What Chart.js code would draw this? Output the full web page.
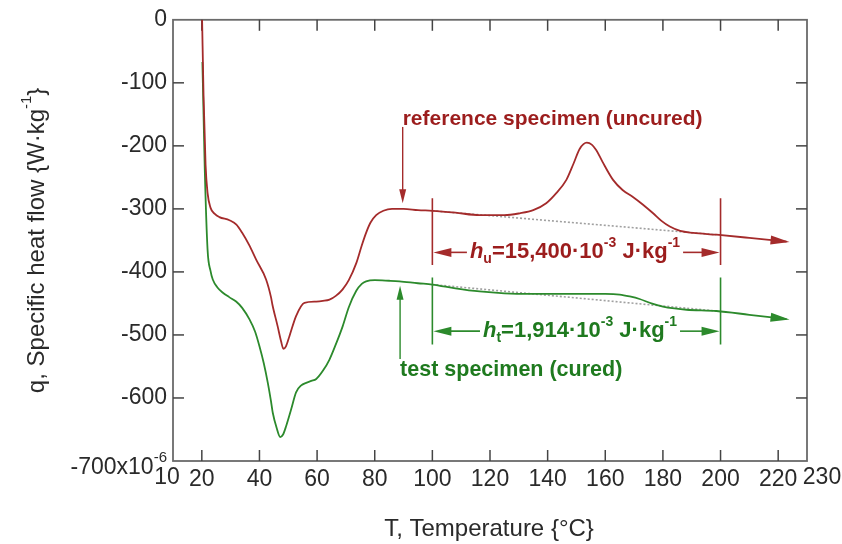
<!DOCTYPE html>
<html>
<head>
<meta charset="utf-8">
<script src="https://cdn.jsdelivr.net/npm/chart.js@4.4.1/dist/chart.umd.min.js"></script>
<style>
  html, body { margin: 0; padding: 0; background: #fff; }
</style>
</head>
<body>
<canvas id="chart" width="842" height="544"></canvas>
<script>
// reference specimen (uncured), T in °C, q in 1e-6 W/kg
const refT = [20.1, 20.6, 21.3, 22.0, 23.0, 24.5, 26.1, 29.6, 32, 34, 36.5, 38.9, 42.3, 44.0, 44.5, 46.3, 47.5, 48.3, 49.2, 50.4,
  52.7, 55.6, 59.7, 62, 64.3, 66.5, 68.8, 71, 73.6, 75.5, 77, 78.5, 80.5, 83, 86, 90, 95, 100, 108, 116.4,
  125, 130.3, 135, 139.5, 143, 146.5, 149, 151.1, 153.6, 155.3, 156.9, 159, 162.7, 166, 169.6, 173, 176.6, 179.5, 182.4, 186,
  190.5, 198.6, 210, 222.9];
const refQ = [0, -120, -230, -275, -298, -308, -313, -318, -325, -338, -358, -381, -412, -440, -452, -486, -510, -522, -518, -502,
  -470, -449, -447, -446, -444, -438, -428, -413, -386, -358, -338, -322, -310, -303, -300, -300, -302, -303, -306, -310,
  -310, -307, -302, -291, -275, -254, -228, -205, -195, -198, -207, -225, -254, -270, -281, -293, -307, -319, -328, -335,
  -338, -341, -346, -352];

// test specimen (cured)
const testT = [20.2, 20.6, 21.0, 22.0, 23.0, 23.8, 25.5, 27.3, 29.5, 31.9, 34, 36.5, 38.5, 40, 41.5, 42.9, 44, 44.6, 46, 47.2,
  48.2, 49.3, 51, 52.7, 54.5, 56.2, 58, 59.7, 62, 64.3, 66.5, 68.9, 71, 73.6, 75.5, 77, 80, 85, 88.6, 95,
  100, 108, 116.4, 125, 133.8, 151.1, 160, 165, 168.5, 171.9, 176, 180, 184, 188.2, 198.6, 210, 222.9];
const testQ = [-67, -150, -233, -365, -398, -412, -425, -433, -440, -447, -457, -475, -495, -518, -545, -576, -605, -623, -648, -662,
  -658, -644, -618, -591, -580, -576, -573, -570, -557, -539, -515, -486, -456, -430, -419, -415, -413, -414, -415, -418,
  -420, -426, -431, -434, -435, -435, -435, -436, -439, -443, -450, -455, -458, -460, -462, -468, -475];

// dotted baselines under the peaks
const refBaseT = [100, 198.6];
const refBaseQ = [-303, -341];
const testBaseT = [100, 198.6];
const testBaseQ = [-420, -462];

// integration limits and annotation levels
const limitsT = [100, 200];
const refLimitQ = [-283, -389];
const testLimitQ = [-409, -515];
const refSpanQ = -369;
const testSpanQ = -494;

const xTicks = [10, 20, 40, 60, 80, 100, 120, 140, 160, 180, 200, 220, 230];
const yTicks = [0, -100, -200, -300, -400, -500, -600, -700];

const RED = '#a42b2b';
const RED_TXT = '#9c1d1d';
const GREEN = '#2c8a2c';
const GREEN_TXT = '#1f7a1f';
const INK = '#2a2a2a';
const FONT = '"Liberation Sans", Arial, sans-serif';

function pts(xs, ys) {
  return xs.map((x, i) => ({ x: x, y: ys[i] }));
}

// draws text made of plain / sup / sub pieces, returns its width
function rich(ctx, parts, x, y, align, color, bold, size, small) {
  const w = bold ? 'bold ' : '';
  const f = p => (p.i ? 'italic ' : '') + w + (p.s ? small : size) + 'px ' + FONT;
  let total = 0;
  parts.forEach(p => {
    ctx.font = f(p);
    p.w = ctx.measureText(p.t).width;
    total += p.w;
  });
  let cx = align === 'center' ? x - total / 2 : align === 'right' ? x - total : x;
  ctx.fillStyle = color;
  ctx.textAlign = 'left';
  ctx.textBaseline = 'middle';
  parts.forEach(p => {
    ctx.font = f(p);
    ctx.fillText(p.t, cx, y + (p.s === 'sup' ? -size * 0.42 : p.s === 'sub' ? size * 0.32 : 0));
    cx += p.w;
  });
  return total;
}

function head(ctx, tx, ty, ang, len, hw, color) {
  ctx.save();
  ctx.translate(tx, ty);
  ctx.rotate(ang);
  ctx.fillStyle = color;
  ctx.beginPath();
  ctx.moveTo(0, 0);
  ctx.lineTo(-len, -hw);
  ctx.lineTo(-len, hw);
  ctx.closePath();
  ctx.fill();
  ctx.restore();
}

function line(ctx, x1, y1, x2, y2, color, w) {
  ctx.strokeStyle = color;
  ctx.lineWidth = w;
  ctx.beginPath();
  ctx.moveTo(x1, y1);
  ctx.lineTo(x2, y2);
  ctx.stroke();
}

const decor = {
  id: 'decor',
  beforeDatasetsDraw(chart) {
    const { ctx, chartArea: a } = chart;
    const xs = chart.scales.x, ys = chart.scales.y;
    ctx.save();
    ctx.strokeStyle = '#6a6a6a';
    ctx.lineWidth = 1.8;
    ctx.strokeRect(a.left, a.top, a.right - a.left, a.bottom - a.top);
    xTicks.slice(1, -1).forEach(v => {
      const px = xs.getPixelForValue(v);
      line(ctx, px, a.bottom, px, a.bottom - 11, '#444', 1.5);
      line(ctx, px, a.top, px, a.top + 11, '#444', 1.5);
    });
    yTicks.slice(1, -1).forEach(v => {
      const py = ys.getPixelForValue(v);
      line(ctx, a.left, py, a.left + 11, py, '#444', 1.5);
      line(ctx, a.right, py, a.right - 11, py, '#444', 1.5);
    });
    // end labels placed like the original
    ctx.fillStyle = INK;
    ctx.font = '23px ' + FONT;
    ctx.textBaseline = 'middle';
    ctx.textAlign = 'center';
    ctx.fillText('10', xs.getPixelForValue(10) - 6, a.bottom + 17);
    ctx.fillText('230', xs.getPixelForValue(230) + 15, a.bottom + 17);
    rich(ctx, [{ t: '-700x10' }, { t: '-6', s: 'sup' }], a.left - 6, a.bottom + 7, 'right', INK, false, 23, 15);
    // axis titles
    rich(ctx, [{ t: 'T, Temperature {°C}' }], 489, 529, 'center', INK, false, 24, 15);
    ctx.save();
    ctx.translate(37, (a.top + a.bottom) / 2);
    ctx.rotate(-Math.PI / 2);
    rich(ctx, [{ t: 'q, Specific heat flow {W·kg' }, { t: '-1', s: 'sup' }, { t: '}' }], 0, 0, 'center', INK, false, 24, 15);
    ctx.restore();
    ctx.restore();
  },
  afterDatasetsDraw(chart) {
    const { ctx } = chart;
    const xs = chart.scales.x, ys = chart.scales.y;
    const X = v => xs.getPixelForValue(v), Y = v => ys.getPixelForValue(v);
    ctx.save();
    // arrow heads at ends of curves
    [[refT, refQ, RED], [testT, testQ, GREEN]].forEach(([t, q, c]) => {
      const n = t.length;
      const ang = Math.atan2(Y(q[n - 1]) - Y(q[n - 2]), X(t[n - 1]) - X(t[n - 2]));
      head(ctx, X(t[n - 1]) + 3, Y(q[n - 1]) + 3 * Math.tan(ang), ang, 19, 4.5, c);
    });
    // span arrows with labels
    const spans = [
      [refSpanQ, RED, RED_TXT, [{ t: 'h', i: true }, { t: 'u', s: 'sub' }, { t: '=15,400·10' }, { t: '-3', s: 'sup' }, { t: ' J·kg' }, { t: '-1', s: 'sup' }], 575],
      [testSpanQ, GREEN, GREEN_TXT, [{ t: 'h', i: true }, { t: 't', s: 'sub' }, { t: '=1,914·10' }, { t: '-3', s: 'sup' }, { t: ' J·kg' }, { t: '-1', s: 'sup' }], 580]
    ];
    spans.forEach(([q, c, tc, parts, cx]) => {
      const py = Y(q);
      const w = rich(ctx, parts, cx, py, 'center', tc, true, 22, 14);
      const l = X(limitsT[0]), r = X(limitsT[1]);
      line(ctx, l + 10, py, cx - w / 2 - 3, py, c, 1.6);
      line(ctx, cx + w / 2 + 3, py, r - 10, py, c, 1.6);
      head(ctx, l + 1, py, Math.PI, 18, 4.5, c);
      head(ctx, r - 1, py, 0, 18, 4.5, c);
    });
    // specimen labels with pointers
    rich(ctx, [{ t: 'reference specimen (uncured)' }], X(89.7), Y(-157), 'left', RED_TXT, true, 21, 14);
    line(ctx, X(89.7), Y(-170), X(89.7), Y(-280), RED, 1.4);
    head(ctx, X(89.7), Y(-291), Math.PI / 2, 14, 3.5, RED);
    rich(ctx, [{ t: 'test specimen (cured)' }], X(88.8), Y(-555), 'left', GREEN_TXT, true, 21.5, 14);
    line(ctx, X(88.8), Y(-538), X(88.8), Y(-432), GREEN, 1.4);
    head(ctx, X(88.8), Y(-422), -Math.PI / 2, 14, 3.5, GREEN);
    ctx.restore();
  }
};

new Chart(document.getElementById('chart'), {
  type: 'line',
  data: {
    datasets: [
      { data: pts(refT, refQ), borderColor: RED, borderWidth: 1.8, pointRadius: 0, cubicInterpolationMode: 'monotone' },
      { data: pts(testT, testQ), borderColor: GREEN, borderWidth: 1.8, pointRadius: 0, cubicInterpolationMode: 'monotone' },
      { data: pts(refBaseT, refBaseQ), borderColor: '#a0a0a0', borderWidth: 1.6, borderDash: [2, 2], pointRadius: 0 },
      { data: pts(testBaseT, testBaseQ), borderColor: '#a0a0a0', borderWidth: 1.6, borderDash: [2, 2], pointRadius: 0 },
      { data: pts([limitsT[0], limitsT[0]], refLimitQ), borderColor: RED, borderWidth: 1.6, pointRadius: 0 },
      { data: pts([limitsT[1], limitsT[1]], refLimitQ), borderColor: RED, borderWidth: 1.6, pointRadius: 0 },
      { data: pts([limitsT[0], limitsT[0]], testLimitQ), borderColor: GREEN, borderWidth: 1.6, pointRadius: 0 },
      { data: pts([limitsT[1], limitsT[1]], testLimitQ), borderColor: GREEN, borderWidth: 1.6, pointRadius: 0 }
    ]
  },
  options: {
    responsive: false,
    animation: false,
    layout: { padding: { top: 19, right: 35, left: 0, bottom: 0 } },
    plugins: { legend: { display: false }, tooltip: { enabled: false } },
    scales: {
      x: {
        type: 'linear', min: 10, max: 230,
        afterBuildTicks: s => { s.ticks = xTicks.map(v => ({ value: v })); },
        afterFit: s => { s.height = 83; },
        grid: { display: false, drawTicks: false },
        border: { display: false },
        ticks: {
          autoSkip: false, maxRotation: 0, padding: 5, color: INK,
          font: { family: FONT, size: 23 },
          callback: v => (v === 10 || v === 230) ? '' : String(v)
        }
      },
      y: {
        type: 'linear', min: -700, max: 0,
        afterBuildTicks: s => { s.ticks = yTicks.map(v => ({ value: v })); },
        afterFit: s => { s.width = 173; },
        grid: { display: false, drawTicks: false },
        border: { display: false },
        ticks: {
          autoSkip: false, padding: 6, color: INK,
          font: { family: FONT, size: 23 },
          callback: v => v === -700 ? '' : String(v)
        }
      }
    }
  },
  plugins: [decor]
});
</script>
</body>
</html>
